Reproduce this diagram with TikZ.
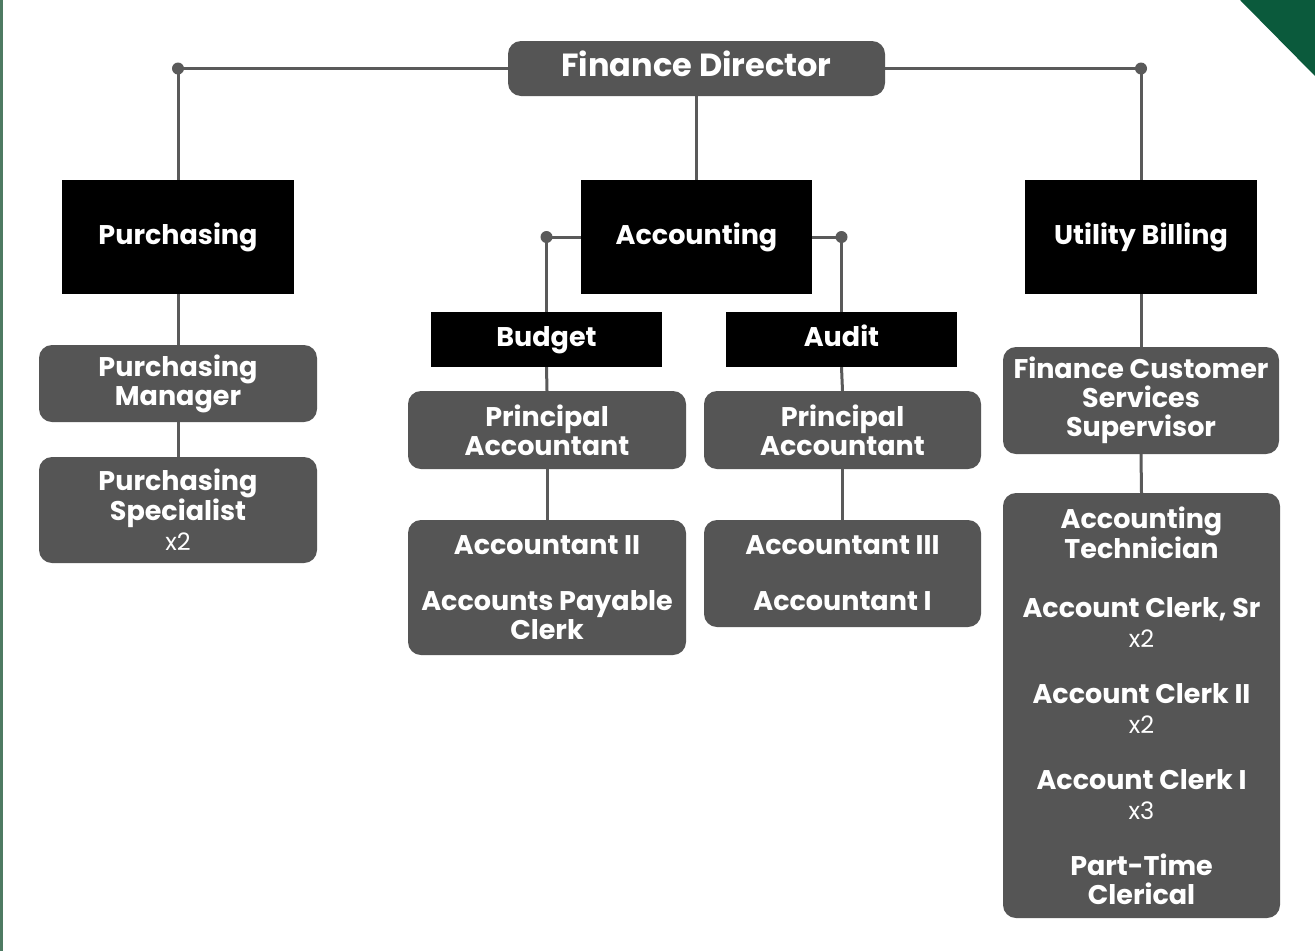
\documentclass[tikz,border=0pt]{standalone}
\usepackage{fontspec}
\setmainfont{Poppins}
\usetikzlibrary{backgrounds}
\definecolor{boxgray}{HTML}{555555}
\definecolor{linegray}{HTML}{5A5A5A}
\definecolor{darkgreen}{HTML}{0B5A3C}
\definecolor{edgegreen}{HTML}{4E7A62}
\tikzset{
  lbl/.style={font=\fontsize{27}{29}\selectfont\bfseries, text=white, align=center, inner sep=0pt},
  graybox/.style={lbl, fill=boxgray, rounded corners=13pt},
  blackbox/.style={lbl, fill=black, text height=20pt, text depth=6pt},
  conn/.style={draw=linegray, line width=3pt},
  dot/.style={fill=linegray}
}
\newcommand{\mult}[1]{{\fontsize{24}{29}\selectfont\mdseries #1}}
\begin{document}
\begin{tikzpicture}[x=1pt,y=-1pt]
\useasboundingbox (0,0) rectangle (1315,951);
\begin{pgfonlayer}{background}
\fill[white] (0,0) rectangle (1315,951);
\fill[edgegreen] (0,0) rectangle (3,951);
\fill[darkgreen] (1240,0) -- (1315,0) -- (1315,76) -- cycle;
\end{pgfonlayer}

\node[graybox, font=\fontsize{32}{34}\selectfont\bfseries, minimum width=377pt, minimum height=55pt, text height=23pt, text depth=7pt] (fd) at (696.5,68.5) {Finance Director};

\node[blackbox, minimum width=232pt, minimum height=114pt] (pur) at (178,237) {Purchasing};
\node[blackbox, minimum width=231pt, minimum height=114pt] (acc) at (696.5,237) {Accounting};
\node[blackbox, minimum width=232pt, minimum height=114pt] (ub) at (1141,237) {Utility Billing};

\node[graybox, minimum width=278pt, minimum height=77pt] (pm) at (178,383.5) {Purchasing\\Manager};
\node[graybox, minimum width=278pt, minimum height=106pt] (ps) at (178,510) {Purchasing\\Specialist\\[1pt]\mult{x2}};

\node[blackbox, minimum width=231pt, minimum height=55pt] (bud) at (546.5,339.5) {Budget};
\node[blackbox, minimum width=231pt, minimum height=55pt] (aud) at (841.5,339.5) {Audit};

\node[graybox, minimum width=278pt, minimum height=78pt] (pa1) at (547,430) {Principal\\Accountant};
\node[graybox, minimum width=277pt, minimum height=78pt] (pa2) at (842.5,430) {Principal\\Accountant};

\node[graybox, minimum width=278pt, minimum height=135pt] (a2) at (547,587.5) {Accountant II\\[27pt]Accounts Payable\\Clerk};
\node[graybox, minimum width=277pt, minimum height=107pt] (a3) at (842.5,573.5) {Accountant III\\[27pt]Accountant I};

\node[graybox, minimum width=276pt, minimum height=107pt] (fcs) at (1141,400.5) {Finance Customer\\Services\\Supervisor};
\node[graybox, minimum width=277pt, minimum height=425pt] (at) at (1141.5,705.5) {Accounting\\Technician\\[30pt]Account Clerk, Sr\\[1pt]\mult{x2}\\[27pt]Account Clerk II\\[1pt]\mult{x2}\\[27pt]Account Clerk I\\[1pt]\mult{x3}\\[27pt]Part-Time\\Clerical};

\begin{pgfonlayer}{background}
\draw[conn] (fd.west) -| (pur.north);
\draw[conn] (fd.east) -| (ub.north);
\draw[conn] (fd.south) -- (acc.north);
\draw[conn] (acc.west) -| (bud.north);
\draw[conn] (acc.east) -| (aud.north);
\draw[conn] (pur.south) -- (pm.north);
\draw[conn] (pm.south) -- (ps.north);
\draw[conn] (bud.south) -- (pa1.north);
\draw[conn] (pa1.south) -- (a2.north);
\draw[conn] (aud.south) -- (pa2.north);
\draw[conn] (pa2.south) -- (a3.north);
\draw[conn] (ub.south) -- (fcs.north);
\draw[conn] (fcs.south) -- (at.north);
\end{pgfonlayer}
\fill[dot] (fd.west -| pur.north) circle (6pt);
\fill[dot] (fd.east -| ub.north) circle (6pt);
\fill[dot] (acc.west -| bud.north) circle (6pt);
\fill[dot] (acc.east -| aud.north) circle (6pt);
\end{tikzpicture}
\end{document}
